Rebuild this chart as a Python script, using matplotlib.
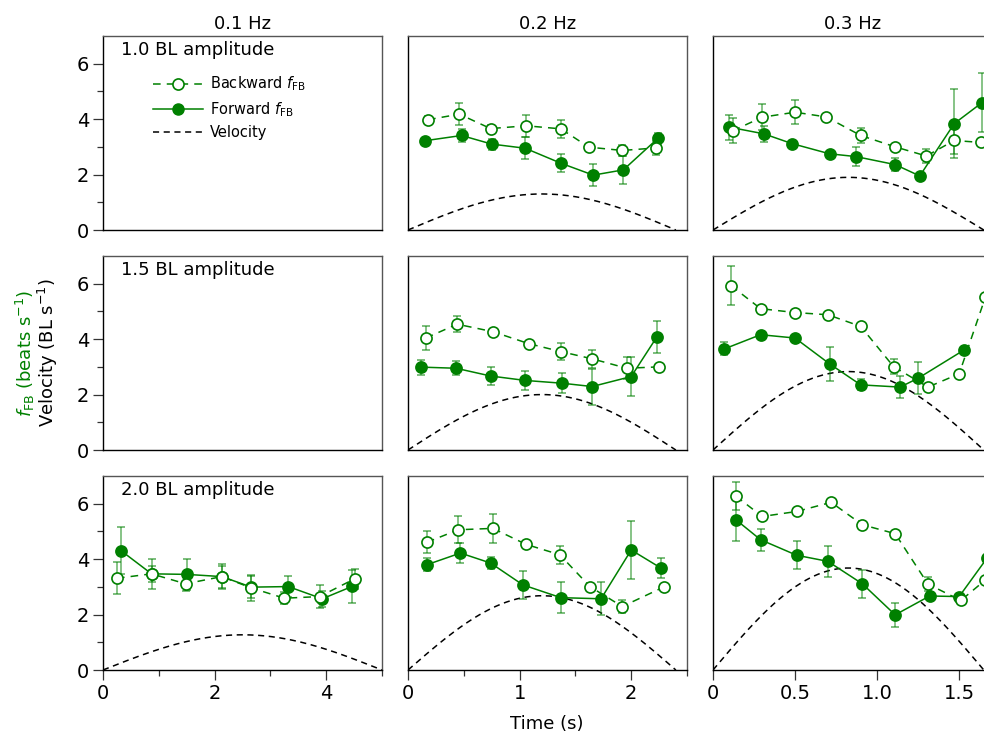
import numpy as np
import matplotlib.pyplot as plt
from matplotlib.lines import Line2D
from matplotlib.ticker import FixedLocator

plt.rcParams['font.family'] = ['DejaVu Sans']
plt.rcParams['mathtext.fontset'] = 'dejavusans'

GREEN = '#008000'

freq_labels = ["0.1 Hz", "0.2 Hz", "0.3 Hz"]
amp_labels = ["1.0 BL amplitude", "1.5 BL amplitude", "2.0 BL amplitude"]
x_limits = [5.0, 2.5, 1.7]
half_periods = [5.0, 2.4, 1.65]
# peak swimming speed (BL/s) per amplitude row and frequency column; None = not run
vel_peak = [[None, 1.30, 1.90],
            [None, 2.00, 2.83],
            [1.27, 2.68, 3.68]]

# 1.0 BL, 0.2 Hz
bwd_t_10_02 = [0.18, 0.46, 0.74, 1.06, 1.37, 1.62, 1.92, 2.22]
bwd_v_10_02 = [3.98, 4.18, 3.66, 3.76, 3.65, 2.99, 2.87, 2.96]
bwd_e_10_02 = [0.12, 0.40, 0.12, 0.40, 0.33, 0.12, 0.20, 0.26]
fwd_t_10_02 = [0.15, 0.48, 0.75, 1.05, 1.37, 1.66, 1.93, 2.24]
fwd_v_10_02 = [3.22, 3.41, 3.10, 2.95, 2.41, 1.98, 2.17, 3.31]
fwd_e_10_02 = [0.10, 0.23, 0.20, 0.40, 0.33, 0.40, 0.50, 0.20]

# 1.0 BL, 0.3 Hz
bwd_t_10_03 = [0.12, 0.30, 0.50, 0.69, 0.90, 1.11, 1.30, 1.47, 1.63]
bwd_v_10_03 = [3.58, 4.07, 4.25, 4.08, 3.41, 3.00, 2.67, 3.23, 3.16]
bwd_e_10_03 = [0.45, 0.47, 0.43, 0.10, 0.27, 0.10, 0.24, 0.50, 0.10]
fwd_t_10_03 = [0.10, 0.31, 0.48, 0.71, 0.87, 1.11, 1.26, 1.47, 1.64]
fwd_v_10_03 = [3.71, 3.47, 3.12, 2.75, 2.65, 2.36, 1.95, 3.84, 4.60]
fwd_e_10_03 = [0.45, 0.30, 0.08, 0.08, 0.33, 0.24, 0.08, 1.24, 1.08]

# 1.5 BL, 0.2 Hz
bwd_t_15_02 = [0.16, 0.44, 0.76, 1.08, 1.37, 1.65, 1.96, 2.25]
bwd_v_15_02 = [4.04, 4.54, 4.27, 3.84, 3.55, 3.29, 2.95, 3.00]
bwd_e_15_02 = [0.42, 0.28, 0.10, 0.10, 0.30, 0.33, 0.40, 0.08]
fwd_t_15_02 = [0.12, 0.43, 0.74, 1.05, 1.38, 1.65, 2.00, 2.23]
fwd_v_15_02 = [2.99, 2.95, 2.67, 2.51, 2.41, 2.29, 2.65, 4.08]
fwd_e_15_02 = [0.27, 0.26, 0.33, 0.35, 0.36, 0.65, 0.69, 0.59]

# 1.5 BL, 0.3 Hz
bwd_t_15_03 = [0.11, 0.29, 0.50, 0.70, 0.90, 1.10, 1.31, 1.50, 1.66]
bwd_v_15_03 = [5.93, 5.10, 4.96, 4.88, 4.46, 3.01, 2.27, 2.75, 5.52]
bwd_e_15_03 = [0.71, 0.08, 0.08, 0.08, 0.08, 0.26, 0.08, 0.08, 0.08]
fwd_t_15_03 = [0.07, 0.29, 0.50, 0.71, 0.90, 1.14, 1.25, 1.53]
fwd_v_15_03 = [3.65, 4.16, 4.04, 3.11, 2.35, 2.27, 2.59, 3.61]
fwd_e_15_03 = [0.24, 0.08, 0.08, 0.61, 0.20, 0.39, 0.57, 0.08]

# 2.0 BL, 0.1 Hz
bwd_t_20_01 = [0.25, 0.87, 1.48, 2.13, 2.66, 3.25, 3.88, 4.51]
bwd_v_20_01 = [3.31, 3.47, 3.11, 3.37, 2.96, 2.59, 2.65, 3.29]
bwd_e_20_01 = [0.58, 0.54, 0.25, 0.46, 0.47, 0.22, 0.42, 0.35]
fwd_t_20_01 = [0.32, 0.87, 1.50, 2.13, 2.66, 3.32, 3.93, 4.47]
fwd_v_20_01 = [4.31, 3.47, 3.45, 3.37, 2.99, 3.01, 2.57, 3.02]
fwd_e_20_01 = [0.84, 0.30, 0.55, 0.40, 0.40, 0.38, 0.28, 0.60]

# 2.0 BL, 0.2 Hz
bwd_t_20_02 = [0.17, 0.45, 0.76, 1.06, 1.36, 1.63, 1.92, 2.29]
bwd_v_20_02 = [4.61, 5.06, 5.11, 4.53, 4.16, 3.01, 2.29, 2.99]
bwd_e_20_02 = [0.40, 0.48, 0.53, 0.08, 0.33, 0.08, 0.24, 0.08]
fwd_t_20_02 = [0.17, 0.47, 0.74, 1.03, 1.37, 1.73, 2.00, 2.27]
fwd_v_20_02 = [3.80, 4.22, 3.86, 3.07, 2.61, 2.57, 4.33, 3.67]
fwd_e_20_02 = [0.24, 0.35, 0.23, 0.50, 0.56, 0.60, 1.04, 0.36]

# 2.0 BL, 0.3 Hz
bwd_t_20_03 = [0.14, 0.30, 0.51, 0.72, 0.91, 1.11, 1.31, 1.51, 1.66]
bwd_v_20_03 = [6.27, 5.54, 5.72, 6.05, 5.24, 4.92, 3.10, 2.51, 3.25]
bwd_e_20_03 = [0.51, 0.08, 0.08, 0.08, 0.15, 0.08, 0.25, 0.08, 0.08]
fwd_t_20_03 = [0.14, 0.29, 0.51, 0.70, 0.91, 1.11, 1.32, 1.50, 1.67]
fwd_v_20_03 = [5.42, 4.70, 4.14, 3.92, 3.11, 1.99, 2.67, 2.65, 4.04]
fwd_e_20_03 = [0.76, 0.40, 0.51, 0.55, 0.50, 0.43, 0.15, 0.08, 0.08]

panels = {
    (0, 1): (bwd_t_10_02, bwd_v_10_02, bwd_e_10_02, fwd_t_10_02, fwd_v_10_02, fwd_e_10_02),
    (0, 2): (bwd_t_10_03, bwd_v_10_03, bwd_e_10_03, fwd_t_10_03, fwd_v_10_03, fwd_e_10_03),
    (1, 1): (bwd_t_15_02, bwd_v_15_02, bwd_e_15_02, fwd_t_15_02, fwd_v_15_02, fwd_e_15_02),
    (1, 2): (bwd_t_15_03, bwd_v_15_03, bwd_e_15_03, fwd_t_15_03, fwd_v_15_03, fwd_e_15_03),
    (2, 0): (bwd_t_20_01, bwd_v_20_01, bwd_e_20_01, fwd_t_20_01, fwd_v_20_01, fwd_e_20_01),
    (2, 1): (bwd_t_20_02, bwd_v_20_02, bwd_e_20_02, fwd_t_20_02, fwd_v_20_02, fwd_e_20_02),
    (2, 2): (bwd_t_20_03, bwd_v_20_03, bwd_e_20_03, fwd_t_20_03, fwd_v_20_03, fwd_e_20_03),
}

x_major = [[0, 2, 4], [0, 1, 2], [0, 0.5, 1.0, 1.5]]
x_minor = [[1, 3, 5], [0.5, 1.5, 2.5], []]
x_ticklabels = [["0", "2", "4"], ["0", "1", "2"], ["0", "0.5", "1.0", "1.5"]]

W, H = 984, 736
fig = plt.figure(figsize=(W / 100, H / 100), dpi=100)

col_left = [103, 408, 713]
row_top = [36, 256, 476]
aw, ah = 279, 194

BWD_DASH = (0, (5, 4))
VEL_DASH = (0, (4, 3))
FS = 13
TICK_FS = 14


def draw_series(ax, t, v, e, filled):
    ls = '-' if filled else BWD_DASH
    mfc = GREEN if filled else 'white'
    line, caps, bars = ax.errorbar(
        t, v, yerr=e, color=GREEN, ls=ls, lw=1.1, marker='o', ms=8,
        mfc=mfc, mec=GREEN, mew=1.2, ecolor=GREEN, elinewidth=1.1,
        capsize=3.2, capthick=1.1, zorder=3)
    for c in caps:
        c.set_alpha(0.6)
    for b in bars:
        b.set_alpha(0.6)


axes = [[None] * 3 for _ in range(3)]
for r in range(3):
    for c in range(3):
        ax = fig.add_axes([col_left[c] / W, 1 - (row_top[r] + ah) / H, aw / W, ah / H])
        axes[r][c] = ax
        ax.set_xlim(0, x_limits[c])
        ax.set_ylim(0, 7)
        for side in ('top', 'right'):
            ax.spines[side].set_color('#555555')
        for side in ('bottom', 'left'):
            ax.spines[side].set_color('black')
        for s in ax.spines.values():
            s.set_linewidth(1.0)

        ax.tick_params(which='major', direction='out', length=7, width=0.9,
                       labelsize=TICK_FS, color='#333333', pad=3)
        ax.tick_params(which='minor', direction='out', length=4, width=0.9,
                       color='#333333')

        if c == 0:
            ax.yaxis.set_major_locator(FixedLocator([0, 2, 4, 6]))
            ax.yaxis.set_minor_locator(FixedLocator([1, 3, 5]))
        else:
            ax.set_yticks([])
        if r == 2:
            ax.set_xticks(x_major[c])
            ax.set_xticklabels(x_ticklabels[c])
            ax.xaxis.set_minor_locator(FixedLocator(x_minor[c]))
        else:
            ax.set_xticks([])

        if r == 0:
            ax.set_title(freq_labels[c], fontsize=FS, pad=5)
        if c == 0:
            ax.text(0.064, 0.975, amp_labels[r], transform=ax.transAxes,
                    ha='left', va='top', fontsize=FS)

        peak = vel_peak[r][c]
        if peak is not None:
            tv = np.linspace(0, half_periods[c], 200)
            ax.plot(tv, peak * np.sin(np.pi * tv / half_periods[c]),
                    color='black', ls=VEL_DASH, lw=1.1, zorder=2)

        if (r, c) in panels:
            bt, bv, be, ft, fv, fe = panels[(r, c)]
            draw_series(ax, ft, fv, fe, filled=True)
            draw_series(ax, bt, bv, be, filled=False)

# legend in the first panel
handles = [
    Line2D([], [], color=GREEN, ls=BWD_DASH, lw=1.1, marker='o', ms=8,
           mfc='white', mec=GREEN, mew=1.2),
    Line2D([], [], color=GREEN, ls='-', lw=1.1, marker='o', ms=8,
           mfc=GREEN, mec=GREEN),
    Line2D([], [], color='black', ls=VEL_DASH, lw=1.1),
]
labels = [r"Backward $f_{\mathrm{FB}}$", r"Forward $f_{\mathrm{FB}}$", "Velocity"]
axes[0][0].legend(handles, labels, loc='upper left', bbox_to_anchor=(0.18, 0.80),
                  frameon=False, fontsize=10.5, handlelength=3.4,
                  handletextpad=0.5, labelspacing=0.45, borderpad=0,
                  borderaxespad=0)

fig.text(547 / W, 1 - 724 / H, "Time (s)", ha='center', va='center', fontsize=FS)
fig.text(25 / W, 1 - 353 / H, r"$f_{\mathrm{FB}}$ (beats s$^{-1}$)", color=GREEN,
         rotation=90, ha='center', va='center', fontsize=FS)
fig.text(48 / W, 1 - 353 / H, r"Velocity (BL s$^{-1}$)", color='black',
         rotation=90, ha='center', va='center', fontsize=FS)

fig.savefig("out.png", dpi=100)
